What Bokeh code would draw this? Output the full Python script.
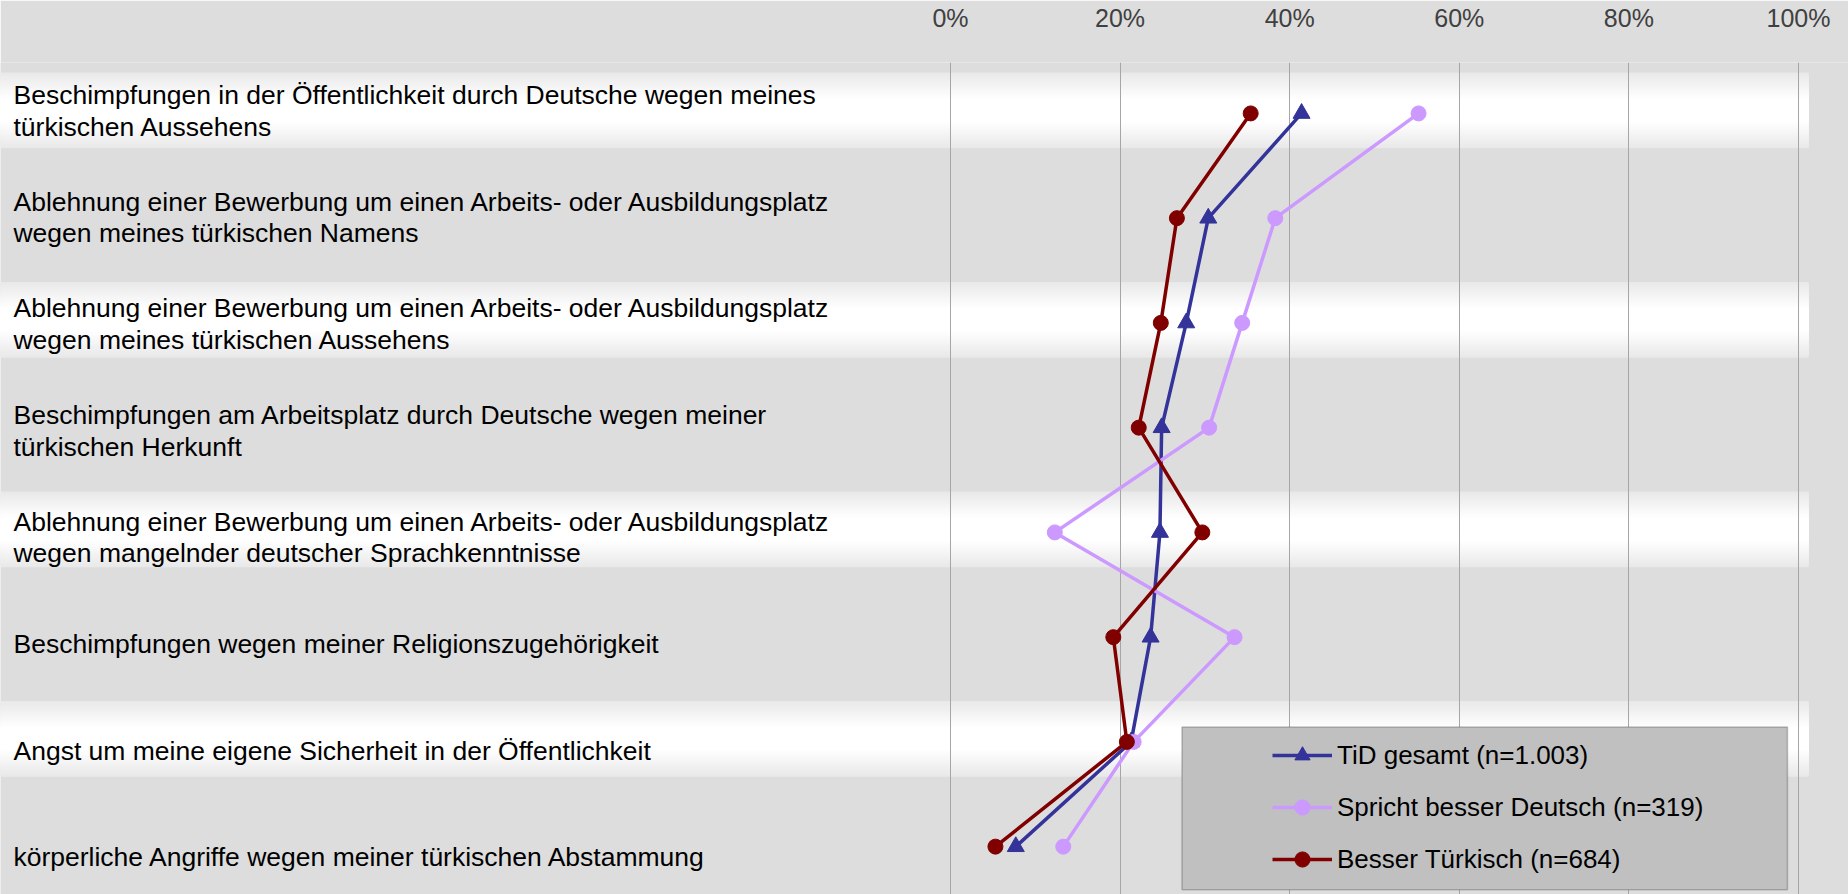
from bokeh.plotting import figure
from bokeh.models import (Range1d, FixedTicker, PrintfTickFormatter, Legend,
                          LegendItem, BoxAnnotation)
from bokeh.core.properties import value
from bokeh.embed import file_html
from bokeh.resources import INLINE

# ---------------- data ----------------
categories = [
    "Beschimpfungen in der Öffentlichkeit durch Deutsche wegen meines\ntürkischen Aussehens",
    "Ablehnung einer Bewerbung um einen Arbeits- oder Ausbildungsplatz\nwegen meines türkischen Namens",
    "Ablehnung einer Bewerbung um einen Arbeits- oder Ausbildungsplatz\nwegen meines türkischen Aussehens",
    "Beschimpfungen am Arbeitsplatz durch Deutsche wegen meiner\ntürkischen Herkunft",
    "Ablehnung einer Bewerbung um einen Arbeits- oder Ausbildungsplatz\nwegen mangelnder deutscher Sprachkenntnisse",
    "Beschimpfungen wegen meiner Religionszugehörigkeit",
    "Angst um meine eigene Sicherheit in der Öffentlichkeit",
    "körperliche Angriffe wegen meiner türkischen Abstammung",
]
tid_gesamt = [41.4, 30.4, 27.8, 24.9, 24.7, 23.6, 21.3, 7.7]
besser_deutsch = [55.2, 38.3, 34.4, 30.5, 12.3, 33.5, 21.6, 13.3]
besser_tuerkisch = [35.4, 26.7, 24.8, 22.2, 29.7, 19.2, 20.8, 5.3]
series_names = ["TiD gesamt (n=1.003)", "Spricht besser Deutsch (n=319)",
                "Besser Türkisch (n=684)"]
x_ticks = [0, 20, 40, 60, 80, 100]

# ---------------- style ----------------
FONT = "Liberation Sans"
BG = "#DDDDDD"
rows = list(range(len(categories)))

p = figure(width=1848, height=894, output_backend="svg", toolbar_location=None,
           x_range=Range1d(-112.03, 105.9), y_range=Range1d(7.457, -0.486),
           x_axis_location="above", y_axis_location=None,
           min_border_left=0, min_border_right=0, min_border_bottom=0,
           min_border_top=60,
           background_fill_color=BG, border_fill_color=BG,
           outline_line_color=None)

# alternating light bands with a soft vertical gradient (nested rectangles)
band_left, band_right = -115.0, 101.2
half_h, center_shift = 0.362, -0.029
n_steps = 30
L, R, T, B, C = [], [], [], [], []
for r in rows[::2]:
    c0 = r + center_shift
    for k in range(n_steps):
        t = 1.0 - k / n_steps
        h = half_h * t
        f = max(0.0, (t - 0.3) / 0.7)
        v = int(round(255 - 22 * f))
        L.append(band_left); R.append(band_right)
        T.append(c0 - h); B.append(c0 + h)
        C.append("#%02x%02x%02x" % (v, v, v))
p.quad(left=L, right=R, top=T, bottom=B, fill_color=C, line_color=None,
       level="image")

# axis on top
ax = p.xaxis[0]
ax.ticker = FixedTicker(ticks=x_ticks)
ax.formatter = PrintfTickFormatter(format="%d%%")
ax.axis_line_color = None
ax.major_tick_line_color = None
ax.minor_tick_line_color = None
ax.major_tick_out = 0
ax.major_label_standoff = 31
ax.major_label_text_font = FONT
ax.major_label_text_font_size = "25px"
ax.major_label_text_color = "#404040"

p.xgrid.ticker = FixedTicker(ticks=x_ticks)
p.xgrid.grid_line_color = "#A6A6A6"
p.xgrid.grid_line_width = 1
p.ygrid.visible = False

# category labels (left aligned); label slots are spaced slightly wider
label_x = -110.5
label_y = [-0.024 + 1.018 * r for r in rows]
p.text(x=[label_x] * len(categories), y=label_y, text=categories,
       text_font=value(FONT), text_font_size="26.5px", text_color="black",
       text_align="left", text_baseline="middle", text_line_height=1.05)

# series
styles = [("#333399", "triangle", 17), ("#CC99FF", "circle", 15),
          ("#800000", "circle", 15)]
items = []
for vals, name, (color, marker, size) in zip(
        [tid_gesamt, besser_deutsch, besser_tuerkisch], series_names, styles):
    ln = p.line(vals, rows, line_color=color, line_width=3.5)
    sc = p.scatter(vals, rows, marker=marker, size=size, fill_color=color,
                   line_color=color)
    items.append(LegendItem(label=name, renderers=[ln, sc]))

# legend box
box = BoxAnnotation(left=27.3, right=98.7, top=5.857, bottom=7.412,
                    fill_color="#C0C0C0", fill_alpha=1.0,
                    line_color="#404040", line_width=1.5)
p.add_layout(box)

legend = Legend(items=items, location=(1272, 16), orientation="vertical",
                glyph_width=60, glyph_height=38, label_height=38, spacing=14,
                padding=0, margin=0, label_standoff=5,
                background_fill_alpha=0, border_line_color=None,
                label_text_font=FONT, label_text_font_size="26px",
                label_text_color="black")
p.add_layout(legend)

open("out.html", "w").write(file_html(p, INLINE))
